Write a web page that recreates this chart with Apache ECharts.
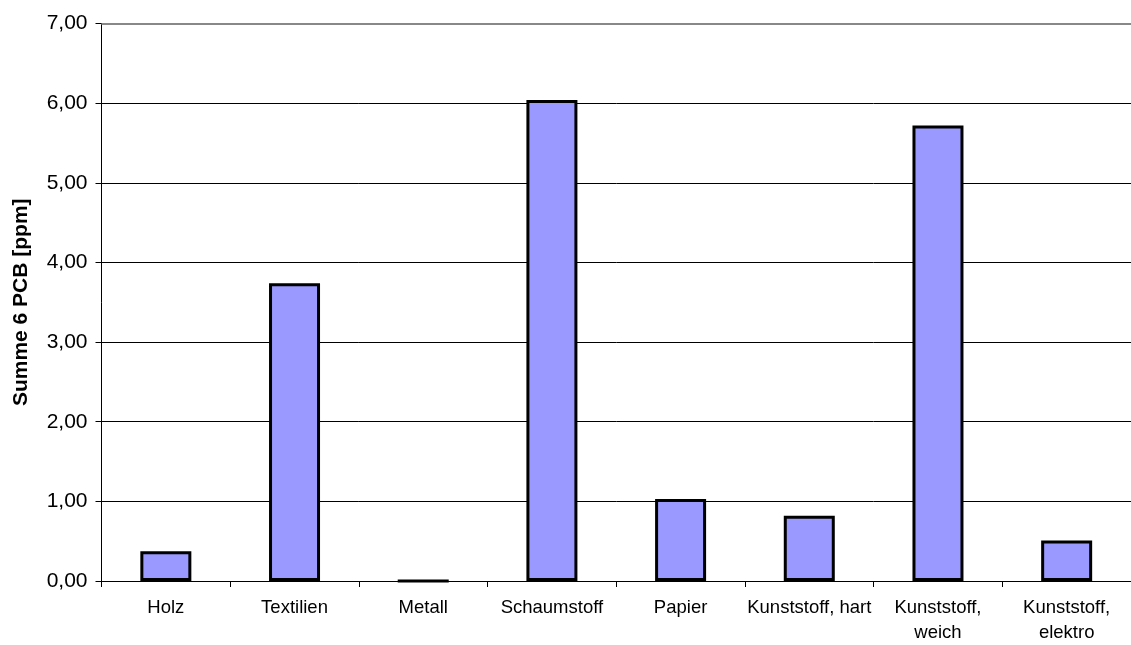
<!DOCTYPE html>
<html><head><meta charset="utf-8">
<script src="https://cdn.jsdelivr.net/npm/echarts@6/dist/echarts.min.js"></script>
<style>html,body{margin:0;padding:0;background:#fff}#c{width:1131px;height:645px}</style>
</head><body><div id="c"></div>
<script>
const categories = ["Holz","Textilien","Metall","Schaumstoff","Papier","Kunststoff, hart","Kunststoff,\nweich","Kunststoff,\nelektro"];
const values = [0.375, 3.74, 0, 6.04, 1.03, 0.82, 5.72, 0.51];
const yTitle = "Summe 6 PCB [ppm]";

const chart = echarts.init(document.getElementById('c'));
chart.setOption({
  animation:false,
  grid:{left:101.5, top:23.5, right:-8, bottom:61.5},
  xAxis:{type:'category', data:categories,
    axisLine:{lineStyle:{color:'#000', width:1}},
    axisTick:{show:true, length:6, lineStyle:{color:'#000'}},
    axisLabel:{color:'#000', fontFamily:'Liberation Sans, Arial', fontSize:18.5, margin:15, lineHeight:24.5, interval:0}
  },
  yAxis:{type:'value', min:0, max:7, interval:1,
    name:yTitle, nameLocation:'middle', nameGap:70, nameRotate:90,
    nameTextStyle:{color:'#000', fontFamily:'Liberation Sans, Arial', fontSize:21, fontWeight:'bold'},
    axisLine:{show:true, lineStyle:{color:'#000', width:1}},
    axisTick:{show:true, length:6, lineStyle:{color:'#000'}},
    axisLabel:{color:'#000', fontFamily:'Liberation Sans, Arial', fontSize:21, margin:14,
      formatter:v=>v.toFixed(2).replace('.',',')},
    splitLine:{show:true, lineStyle:{color:'#000', width:1}}
  },
  series:[{type:'bar', data:values, barWidth:51,
    itemStyle:{color:'#9999ff', borderColor:'#000', borderWidth:3},
    markLine:{silent:true, symbol:'none', label:{show:false},
      lineStyle:{color:'#888', width:2, type:'solid'}, data:[{yAxis:7}]}
  }]
});
</script></body></html>
